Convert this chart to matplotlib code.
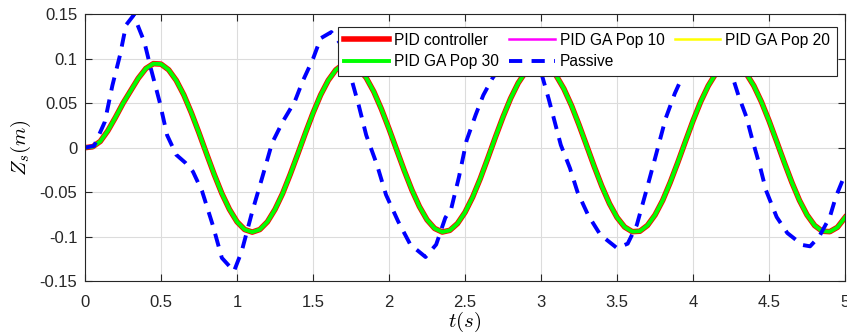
import numpy as np
import matplotlib.pyplot as plt

plt.rcParams['font.family'] = ['Liberation Sans', 'DejaVu Sans']
plt.rcParams['mathtext.fontset'] = 'cm'
plt.rcParams['axes.unicode_minus'] = False

# Data
t_pid = np.round(np.arange(0, 5.0001, 0.05), 2)
z_pid = [0.000, 0.001, 0.007, 0.019, 0.034, 0.050, 0.064, 0.078, 0.089, 0.0945,
         0.094, 0.0876, 0.0757, 0.0593, 0.039, 0.0165, -0.0071, -0.0302, -0.0515, -0.0694,
         -0.0834, -0.0921, -0.095, -0.0921, -0.0834, -0.0694, -0.0515, -0.030, -0.007, 0.0165,
         0.039, 0.0593, 0.0757, 0.0875, 0.094, 0.0945, 0.0893, 0.0785, 0.0629, 0.0433,
         0.0211, -0.0024, -0.0257, -0.0475, -0.0663, -0.0812, -0.0909, -0.0949, -0.093, -0.0854,
         -0.0727, -0.0556, -0.0349, -0.0118, 0.0119, 0.0347, 0.0555, 0.0728, 0.0856, 0.0931,
         0.0949, 0.0908, 0.081, 0.0663, 0.0475, 0.0256, 0.0023, -0.0212, -0.0434, -0.0629,
         -0.0785, -0.0893, -0.0945, -0.094, -0.0875, -0.0757, -0.0594, -0.039, -0.0165, 0.0071,
         0.0303, 0.0516, 0.0696, 0.0835, 0.0921, 0.095, 0.092, 0.0834, 0.0696, 0.0515,
         0.0302, 0.007, -0.0165, -0.039, -0.0593, -0.0757, -0.0876, -0.094, -0.0945, -0.0896,
         -0.0785]
z_ga10 = z_pid
z_ga20 = z_pid
z_ga30 = z_pid

t_passive = [0, 0.06, 0.13, 0.18, 0.23, 0.27, 0.32, 0.39, 0.43, 0.49, 0.54, 0.60, 0.66, 0.71,
             0.77, 0.84, 0.90, 0.98, 1.03, 1.10, 1.17, 1.23, 1.30, 1.38, 1.43, 1.50, 1.55, 1.62,
             1.69, 1.74, 1.80, 1.85, 1.92, 1.98, 2.06, 2.14, 2.24, 2.31, 2.37, 2.41, 2.46, 2.51,
             2.57, 2.62, 2.68, 2.75, 2.81, 2.87, 2.93, 3.00, 3.05, 3.09, 3.13, 3.19, 3.24, 3.31,
             3.39, 3.50, 3.57, 3.63, 3.69, 3.75, 3.82, 3.88, 3.93, 3.98, 4.04, 4.11, 4.18, 4.25,
             4.30, 4.35, 4.39, 4.44, 4.48, 4.55, 4.62, 4.72, 4.77, 4.83, 4.90, 4.94, 5.00]
z_passive = [0, 0.002, 0.029, 0.070, 0.104, 0.138, 0.149, 0.119, 0.091, 0.052, 0.014, -0.008,
             -0.017, -0.027, -0.049, -0.087, -0.124, -0.139, -0.117, -0.072, -0.031, 0.005,
             0.029, 0.052, 0.074, 0.100, 0.123, 0.130, 0.115, 0.085, 0.048, 0.014, -0.019,
             -0.053, -0.083, -0.109, -0.123, -0.109, -0.079, -0.068, -0.033, 0.008, 0.037,
             0.059, 0.078, 0.095, 0.115, 0.122, 0.110, 0.085, 0.055, 0.029, 0.003, -0.023,
             -0.050, -0.076, -0.098, -0.113, -0.108, -0.087, -0.050, -0.012, 0.033, 0.061,
             0.080, 0.091, 0.108, 0.117, 0.110, 0.085, 0.058, 0.035, 0.009, -0.021, -0.048,
             -0.078, -0.096, -0.1095, -0.111, -0.100, -0.078, -0.055, -0.030]

xticks = [0, 0.5, 1, 1.5, 2, 2.5, 3, 3.5, 4, 4.5, 5]
yticks = [-0.15, -0.1, -0.05, 0, 0.05, 0.1, 0.15]

fig = plt.figure(figsize=(8.47, 3.36), dpi=100)
ax = fig.add_axes([0.1004, 0.1637, 0.8973, 0.7937])

h1, = ax.plot(t_pid, z_pid, color='#ff0000', lw=4.0, label='PID controller')
h2, = ax.plot(t_pid, z_ga10, color='#ff00ff', lw=1.8, label='PID GA Pop 10')
h3, = ax.plot(t_pid, z_ga20, color='#ffff00', lw=1.8, label='PID GA Pop 20')
h4, = ax.plot(t_pid, z_ga30, color='#00ff00', lw=2.8, label='PID GA Pop 30')
h5, = ax.plot(t_passive, z_passive, color='#0000ff', lw=2.8, ls='--', dashes=(3.4, 2.4),
              label='Passive')

ax.set_xlim(0, 5)
ax.set_ylim(-0.15, 0.15)
ax.set_xticks(xticks)
ax.set_yticks(yticks)
ax.set_xticklabels(['%g' % v for v in xticks])
ax.set_yticklabels(['%g' % v for v in yticks])
ax.tick_params(direction='in', top=True, right=True, labelsize=12,
               colors='#262626', length=5, width=0.8)
ax.tick_params(axis='x', pad=10)
ax.tick_params(axis='y', pad=5.5)
ax.grid(True, color='#dcdcdc', lw=0.8)
ax.set_axisbelow(True)
for s in ax.spines.values():
    s.set_color('#262626')
    s.set_linewidth(0.8)

ax.set_xlabel('$t(s)$', fontsize=15, labelpad=0)
ax.set_ylabel('$Z_s(m)$', fontsize=15, labelpad=5)

leg = ax.legend([h1, h4, h2, h5, h3],
                ['PID controller', 'PID GA Pop 30', 'PID GA Pop 10', 'Passive', 'PID GA Pop 20'],
                ncol=3, loc='upper right', bbox_to_anchor=(0.9888, 0.9535), fontsize=11.2,
                handlelength=2.9, handletextpad=0.35, columnspacing=0.65, labelspacing=0.42,
                borderpad=0.4, borderaxespad=0, fancybox=False, framealpha=1,
                edgecolor='#262626')
leg.get_frame().set_linewidth(0.8)

fig.savefig('out.png', dpi=100)
